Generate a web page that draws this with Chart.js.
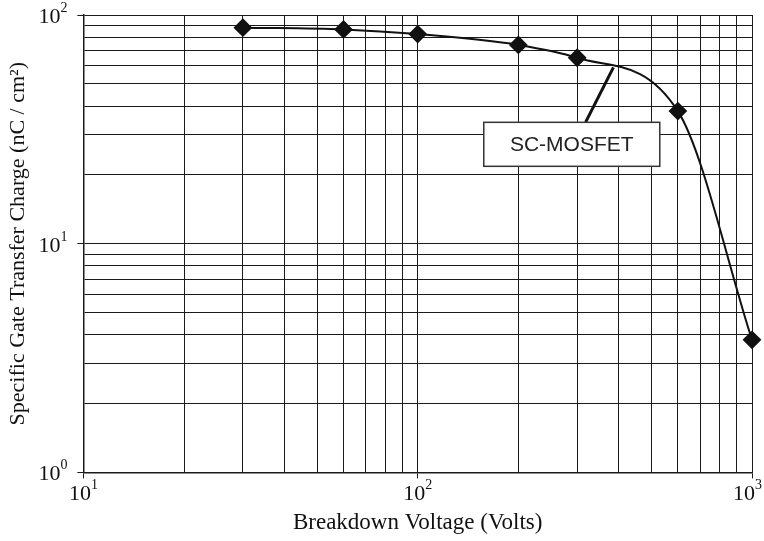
<!DOCTYPE html>
<html>
<head>
<meta charset="utf-8">
<script src="https://cdn.jsdelivr.net/npm/chart.js@4.4.1/dist/chart.umd.min.js"></script>
<style>
  html, body { margin: 0; padding: 0; background: #fff; }
  #wrap { width: 764px; height: 541px; }
</style>
</head>
<body>
<div id="wrap"><canvas id="chart"></canvas></div>
<script>
// breakdown voltage (V) and specific gate transfer charge (nC/cm2)
const voltages = [30, 60, 100, 200, 300, 600, 1000];
const charges = [88, 86.5, 82.5, 74, 65, 38, 3.8];

const xTicks = [10, 20, 30, 40, 50, 60, 70, 80, 90, 100, 200, 300, 400, 500, 600, 700, 800, 900, 1000];
const yTicks = [1, 2, 3, 4, 5, 6, 7, 8, 9, 10, 20, 30, 40, 50, 60, 70, 80, 90, 100];
const xMajor = [10, 100, 1000];
const yMajor = [1, 10, 100];

const seriesLabel = 'SC-MOSFET';

const isMajor = v => Math.abs(Math.log10(v) - Math.round(Math.log10(v))) < 1e-9;
const serif = '"Liberation Serif", "Times New Roman", serif';
const baseFont = '22px ' + serif;
const expFont = '14px ' + serif;

// draws "10^n" tick labels and the callout box
const decorations = {
    id: 'decorations',
    afterDraw(chart) {
        const ctx = chart.ctx;
        const xs = chart.scales.x;
        const ys = chart.scales.y;
        const area = chart.chartArea;
        ctx.save();
        ctx.fillStyle = '#111';
        ctx.textBaseline = 'alphabetic';
        ctx.textAlign = 'left';

        xMajor.forEach(v => {
            const px = xs.getPixelForValue(v);
            const exp = String(Math.round(Math.log10(v)));
            ctx.font = baseFont;
            const w = ctx.measureText('10').width;
            ctx.font = expFont;
            const we = ctx.measureText(exp).width;
            // keep the last label inside the canvas
            const left = Math.min(px - (w + we) / 2, chart.width - (w + we) - 2);
            ctx.font = baseFont;
            ctx.fillText('10', left, area.bottom + 28);
            ctx.font = expFont;
            ctx.fillText(exp, left + w, area.bottom + 17);
        });

        yMajor.forEach(v => {
            const py = ys.getPixelForValue(v);
            const exp = String(Math.round(Math.log10(v)));
            ctx.font = expFont;
            const we = ctx.measureText(exp).width;
            ctx.font = baseFont;
            const w = ctx.measureText('10').width;
            const right = area.left - 16;
            ctx.fillText('10', right - we - w, py + 8);
            ctx.font = expFont;
            ctx.fillText(exp, right - we, py - 3);
        });

        // callout: leader line from box to curve
        const lx1 = xs.getPixelForValue(318), ly1 = ys.getPixelForValue(34);
        const lx2 = xs.getPixelForValue(385), ly2 = ys.getPixelForValue(59);
        ctx.strokeStyle = '#111';
        ctx.lineWidth = 3;
        ctx.beginPath();
        ctx.moveTo(lx1, ly1);
        ctx.lineTo(lx2, ly2);
        ctx.stroke();

        const bx = xs.getPixelForValue(289), by = ys.getPixelForValue(27.2);
        const bw = 176, bh = 44;
        ctx.fillStyle = '#fff';
        ctx.fillRect(bx - bw / 2, by - bh / 2, bw, bh);
        ctx.strokeStyle = '#333';
        ctx.lineWidth = 1.5;
        ctx.strokeRect(bx - bw / 2, by - bh / 2, bw, bh);
        ctx.fillStyle = '#222';
        ctx.font = '21px "Liberation Sans", Arial, sans-serif';
        ctx.textAlign = 'center';
        ctx.textBaseline = 'middle';
        ctx.fillText(seriesLabel, bx, by + 1);
        ctx.restore();
    }
};

const gridOpts = {
    color: '#1a1a1a',
    lineWidth: 1,
    tickLength: 6,
    tickColor: c => (c.tick && isMajor(c.tick.value)) ? '#1a1a1a' : 'rgba(0,0,0,0)'
};

new Chart(document.getElementById('chart'), {
    type: 'line',
    data: {
        datasets: [{
            label: seriesLabel,
            data: voltages.map((v, i) => ({ x: v, y: charges[i] })),
            borderColor: '#111',
            backgroundColor: '#111',
            borderWidth: 2,
            pointStyle: 'rectRot',
            pointRadius: 8,
            pointHoverRadius: 8,
            cubicInterpolationMode: 'monotone',
            clip: false
        }]
    },
    options: {
        responsive: true,
        maintainAspectRatio: false,
        animation: false,
        layout: { padding: { top: 15, right: 12, left: 0, bottom: 0 } },
        plugins: {
            legend: { display: false },
            tooltip: { enabled: false }
        },
        scales: {
            x: {
                type: 'logarithmic',
                min: 10,
                max: 1000,
                afterBuildTicks: s => { s.ticks = xTicks.map(v => ({ value: v })); },
                ticks: { display: false },
                grid: gridOpts,
                border: { color: '#1a1a1a', width: 1.5 },
                title: {
                    display: true,
                    text: 'Breakdown Voltage (Volts)',
                    color: '#111',
                    font: { family: serif, size: 23 },
                    padding: { top: 31, bottom: 4 }
                }
            },
            y: {
                type: 'logarithmic',
                min: 1,
                max: 100,
                afterBuildTicks: s => { s.ticks = yTicks.map(v => ({ value: v })); },
                ticks: { display: false },
                grid: gridOpts,
                border: { color: '#1a1a1a', width: 1.5 },
                title: {
                    display: true,
                    text: 'Specific Gate Transfer Charge (nC / cm²)',
                    color: '#111',
                    font: { family: serif, size: 22 },
                    padding: { top: 5, bottom: 46 }
                }
            }
        }
    },
    plugins: [decorations]
});
</script>
</body>
</html>
